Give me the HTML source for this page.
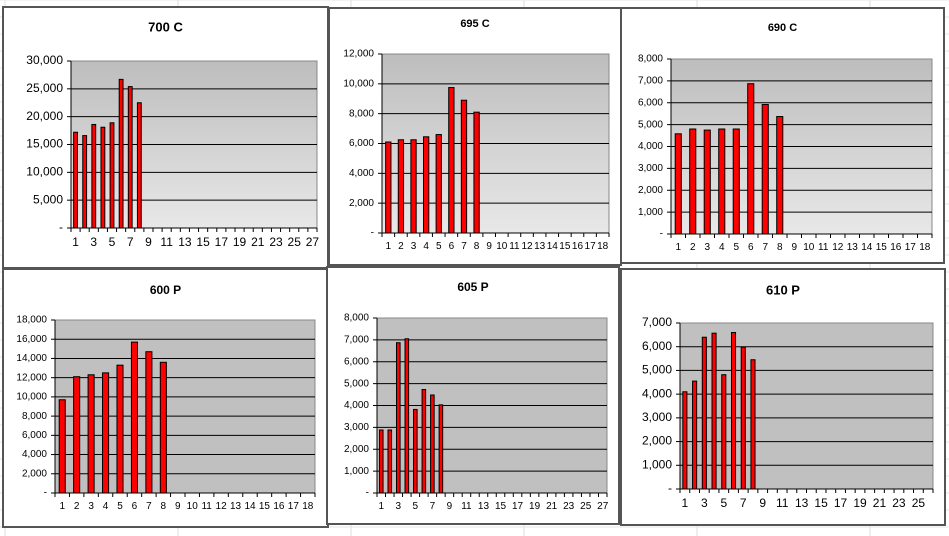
<!DOCTYPE html>
<html><head><meta charset="utf-8"><style>
html,body{margin:0;padding:0;background:#fff;}
svg{display:block;}
text{font-family:"Liberation Sans",Arial,sans-serif;fill:#000;}
</style></head><body>
<svg id="s" width="949" height="536" xmlns="http://www.w3.org/2000/svg">
<defs>
<linearGradient id="g" x1="0" y1="0" x2="0" y2="1"><stop offset="0" stop-color="#bdbdbd"/><stop offset="1" stop-color="#e8e8e8"/></linearGradient>
</defs>
<rect width="949" height="536" fill="#fff"/>
</svg>
<script>
var s=document.getElementById('s'),h='';
for(var x=5;x<949;x+=173)h+='<line x1="'+x+'" y1="0" x2="'+x+'" y2="536" stroke="#dcdcdc"/>';
for(var y=0;y<536;y+=17)h+='<line x1="0" y1="'+y+'" x2="949" y2="'+y+'" stroke="#e4e4e4"/>';
var P=[
{t:'700 C',f:[3,7,325,261],p:[71,61,317,228],ty:28,ts:13,max:30000,st:5000,n:27,lab:'odd',fs:12,gr:1,d:[17200,16600,18600,18100,18900,26700,25400,22500]},
{t:'695 C',f:[329,8,292,257],p:[382,54,609,233],ty:24,ts:11,max:12000,st:2000,n:18,lab:'all',fs:10,gr:1,d:[6100,6250,6250,6450,6600,9750,8900,8100]},
{t:'690 C',f:[621,8,323,255],p:[671,59,932,234],ty:28,ts:11,max:8000,st:1000,n:18,lab:'all',fs:10,gr:1,d:[4580,4800,4750,4800,4800,6870,5920,5370]},
{t:'600 P',f:[3,269,325,258],p:[55,320,315,493],ty:291,ts:12,max:18000,st:2000,n:18,lab:'all',fs:10,gr:0,d:[9700,12100,12300,12500,13300,15700,14700,13600]},
{t:'605 P',f:[327,267,292,257],p:[377,318,607,493],ty:288,ts:12,max:8000,st:1000,n:27,lab:'odd',fs:10,gr:0,d:[2880,2880,6870,7050,3820,4730,4480,4030]},
{t:'610 P',f:[621,269,324,256],p:[680,323,933,489],ty:291,ts:13,max:7000,st:1000,n:26,lab:'odd',fs:12,gr:0,d:[4100,4550,6400,6570,4820,6600,5980,5450]}
];
function fmt(v){return v==0?'-':v.toLocaleString('en-US');}
P.forEach(function(c){
 var f=c.f,p=c.p,W=p[2]-p[0],H=p[3]-p[1];
 h+='<rect x="'+f[0]+'" y="'+f[1]+'" width="'+f[2]+'" height="'+f[3]+'" fill="#fff" stroke="#555" stroke-width="2"/>';
 h+='<text x="'+(f[0]+f[2]/2)+'" y="'+c.ty+'" font-size="'+c.ts+'" font-weight="bold" text-anchor="middle" dominant-baseline="middle">'+c.t+'</text>';
 h+='<rect x="'+p[0]+'" y="'+p[1]+'" width="'+W+'" height="'+H+'" fill="'+(c.gr?'url(#g)':'#c0c0c0')+'" stroke="#888"/>';
 for(var v=0;v<=c.max;v+=c.st){
  var y=p[3]-v/c.max*H;
  if(v>0&&v<c.max)h+='<line x1="'+p[0]+'" y1="'+y+'" x2="'+p[2]+'" y2="'+y+'" stroke="#000"/>';
  h+='<line x1="'+(p[0]-4)+'" y1="'+y+'" x2="'+p[0]+'" y2="'+y+'" stroke="#000"/>';
  h+='<text x="'+(p[0]-8)+'" y="'+y+'" font-size="'+c.fs+'" text-anchor="end" dominant-baseline="middle" fill="#222">'+fmt(v)+'</text>';
 }
 h+='<line x1="'+p[0]+'" y1="'+p[1]+'" x2="'+p[0]+'" y2="'+p[3]+'" stroke="#000"/>';
 h+='<line x1="'+p[0]+'" y1="'+p[3]+'" x2="'+p[2]+'" y2="'+p[3]+'" stroke="#000"/>';
 var cw=W/c.n;
 for(var i=0;i<=c.n;i++){var x=p[0]+i*cw;h+='<line x1="'+x+'" y1="'+p[3]+'" x2="'+x+'" y2="'+(p[3]+4)+'" stroke="#000"/>';}
 for(var i=0;i<c.n;i++){
  var cx=p[0]+(i+.5)*cw;
  if(c.lab=='all'||i%2==0)h+='<text x="'+cx+'" y="'+(p[3]+c.fs+6)+'" font-size="'+c.fs+'" text-anchor="middle" fill="#222">'+(i+1)+'</text>';
 }
 var bw=cw*0.42;
 c.d.forEach(function(v,i){
  var cx=p[0]+(i+.5)*cw,bh=v/c.max*H;
  h+='<rect x="'+(cx-bw/2)+'" y="'+(p[3]-bh)+'" width="'+bw+'" height="'+bh+'" fill="#f00" stroke="#000" stroke-width="1"/>';
 });
});
s.innerHTML+=h;
</script>
</body></html>
